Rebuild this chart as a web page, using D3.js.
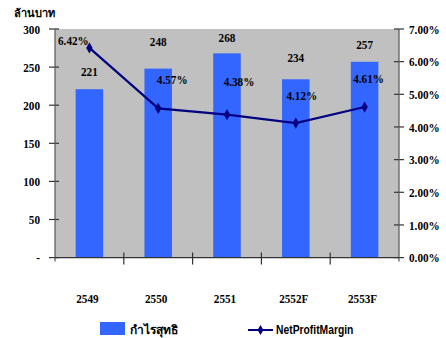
<!DOCTYPE html>
<html><head><meta charset="utf-8">
<script src="https://cdn.jsdelivr.net/npm/d3@7"></script>
<style>
body{margin:0;background:#fff;}
text{font-family:"Liberation Serif","Times New Roman",serif;font-weight:bold;}
</style></head>
<body>
<svg id="c" width="446" height="338"></svg>
<script>
const categories = ["2549","2550","2551","2552F","2553F"];
const profit = [221,248,268,234,257];
const margin = [6.42,4.57,4.38,4.12,4.61];
const leftTicks = [0,50,100,150,200,250,300];
const rightTicks = [0,1,2,3,4,5,6,7];
const unitLabel = "ล้านบาท";
const barName = "กำไรสุทธิ";
const lineName = "NetProfitMargin";
// manual label offsets (as in original Excel chart)
const barLabelDy = [-13,-23,-11,-17,-13];
const pctLabelOff = [[-16,-3],[14,-24],[12,-29],[6,-23],[4,-24]];

const svg = d3.select("#c");
const L=55, R=399, T=29, B=257.6;
const x = d3.scaleBand().domain(categories).range([L,R]);
const y = d3.scaleLinear().domain([0,300]).range([B,T]);
const y2 = d3.scaleLinear().domain([0,7]).range([B,T]);

svg.append("rect").attr("x",L).attr("y",T).attr("width",R-L).attr("height",B-T).attr("fill","#c0c0c0");

const bw = x.bandwidth()*0.4;
svg.selectAll("rect.bar").data(profit).join("rect").attr("class","bar")
  .attr("x",(d,i)=>x(categories[i])+x.bandwidth()/2-bw/2)
  .attr("y",d=>y(d)).attr("width",bw).attr("height",d=>B-y(d))
  .attr("fill","#3366ff");

const FS = "13px";
// left axis
const la = svg.append("g").attr("transform",`translate(${L},0)`)
  .call(d3.axisLeft(y).tickValues(leftTicks).tickSize(0).tickPadding(15).tickFormat(d=>d===0?"-":d));
la.select(".domain").remove();
la.selectAll("text").attr("class","cond").attr("font-size",FS).attr("fill","#000");
svg.append("g").selectAll("line").data(leftTicks).join("line")
  .attr("x1",L-6).attr("x2",L+4).attr("y1",d=>y(d)).attr("y2",d=>y(d)).attr("stroke","#333").attr("stroke-width",1.2);
svg.append("line").attr("x1",L).attr("x2",L).attr("y1",T).attr("y2",B+4).attr("stroke","#555").attr("stroke-width",1.2);

// right axis
const ra = svg.append("g").attr("transform",`translate(${R},0)`)
  .call(d3.axisRight(y2).tickValues(rightTicks).tickSize(0).tickPadding(10).tickFormat(d=>d3.format(".2f")(d)+"%"));
ra.select(".domain").remove();
ra.selectAll("text").attr("class","cond").attr("font-size",FS).attr("fill","#000");
svg.append("g").selectAll("line").data(rightTicks).join("line")
  .attr("x1",R-5).attr("x2",R+5).attr("y1",d=>y2(d)).attr("y2",d=>y2(d)).attr("stroke","#333").attr("stroke-width",1.2);
svg.append("line").attr("x1",R).attr("x2",R).attr("y1",T).attr("y2",B+4).attr("stroke","#555").attr("stroke-width",1.2);

// bottom axis
svg.append("line").attr("x1",L).attr("x2",R).attr("y1",B).attr("y2",B).attr("stroke","#333").attr("stroke-width",1.2);
svg.append("g").selectAll("line").data(categories.slice(1)).join("line")
  .attr("x1",d=>x(d)).attr("x2",d=>x(d)).attr("y1",B-5).attr("y2",B+7).attr("stroke","#333").attr("stroke-width",1.2);
svg.append("g").selectAll("text").data(categories).join("text").attr("class","cond")
  .attr("x",d=>x(d)+x.bandwidth()/2-2).attr("y",303).attr("text-anchor","middle")
  .attr("font-size",FS).text(d=>d);

// line
const cx = i=>x(categories[i])+x.bandwidth()/2;
svg.append("path").datum(margin).attr("fill","none").attr("stroke","#000080").attr("stroke-width",2.2)
  .attr("d",d3.line().x((d,i)=>cx(i)).y(d=>y2(d)));
svg.append("g").selectAll("path").data(margin).join("path")
  .attr("transform",(d,i)=>`translate(${cx(i)},${y2(d)})`)
  .attr("d",d3.symbol(d3.symbolDiamond,36)).attr("fill","#000080");

// bar labels
svg.append("g").selectAll("text").data(profit).join("text").attr("class","cond")
  .attr("x",(d,i)=>cx(i)).attr("y",(d,i)=>y(d)+barLabelDy[i]).attr("text-anchor","middle")
  .attr("font-size",FS).text(d=>d);
// pct labels
svg.append("g").selectAll("text").data(margin).join("text").attr("class","cond")
  .attr("x",(d,i)=>cx(i)+pctLabelOff[i][0]).attr("y",(d,i)=>y2(d)+pctLabelOff[i][1]).attr("text-anchor","middle")
  .attr("font-size",FS).text(d=>d3.format(".2f")(d)+"%");

// unit label
svg.append("text").attr("x",14).attr("y",17).attr("font-size","11px").style("font-family","'Noto Sans'").text(unitLabel);

// legend
svg.append("rect").attr("x",100).attr("y",322).attr("width",25).attr("height",13).attr("fill","#3366ff");
svg.append("text").attr("x",130).attr("y",334).attr("font-size","12px").style("font-family","'Noto Sans'").text(barName);
svg.append("line").attr("x1",248).attr("x2",273).attr("y1",330).attr("y2",330).attr("stroke","#000080").attr("stroke-width",2);
svg.append("path").attr("transform","translate(260.5,330)").attr("d",d3.symbol(d3.symbolDiamond,30)).attr("fill","#000080");
svg.append("text").attr("class","cond").attr("x",276).attr("y",334).attr("font-size","12px").style("font-family","'Liberation Sans'").text(lineName);

// condense text horizontally like the original
svg.selectAll("text.cond").each(function(){
  const w = this.getComputedTextLength();
  d3.select(this).attr("textLength", w*0.86).attr("lengthAdjust","spacingAndGlyphs");
});
</script>
</body></html>
